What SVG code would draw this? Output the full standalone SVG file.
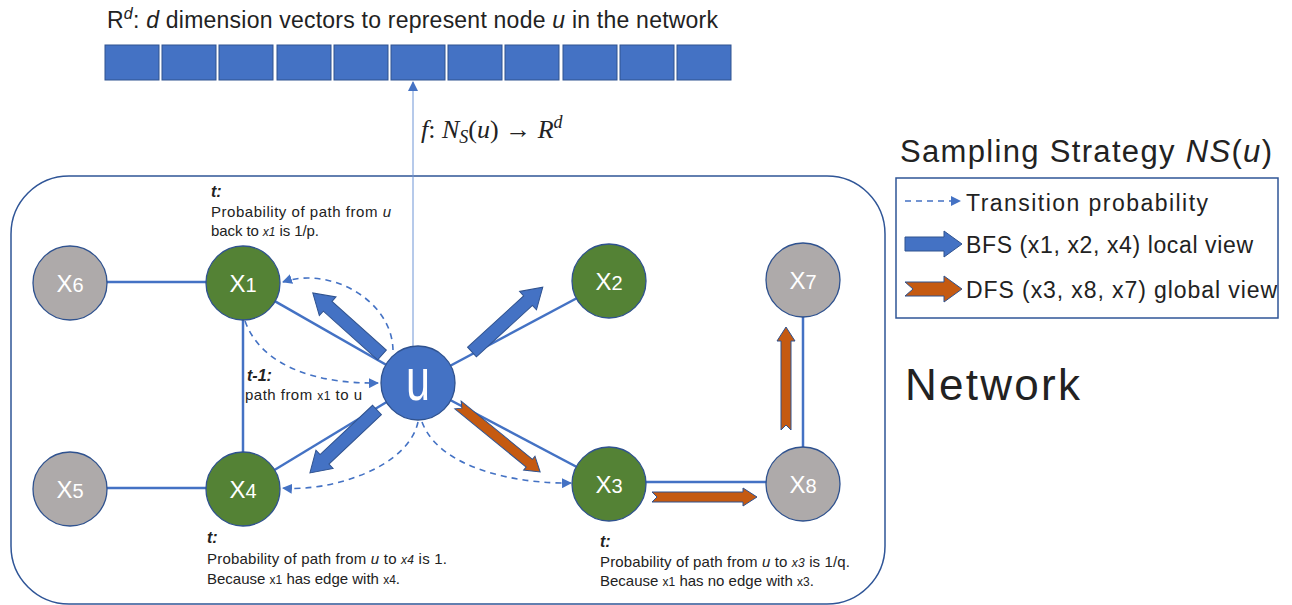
<svg xmlns="http://www.w3.org/2000/svg" width="1292" height="605" viewBox="0 0 1292 605">
<style>
.t{font-family:"Liberation Sans",Arial,sans-serif;fill:#222}
.edge{stroke:#4472c4;stroke-width:2.5;fill:none}
.dash{stroke:#4472c4;stroke-width:1.6;fill:none;stroke-dasharray:6 5}
.sq{fill:#4472c4;stroke:#2f528f;stroke-width:1}
.green{fill:#548235;stroke:#2f528f;stroke-width:1.3}
.gray{fill:#aeaaaa;stroke:#2f528f;stroke-width:1.3}
.blue{fill:#4472c4;stroke:#2f528f;stroke-width:1.3}
.lbl{font-family:"Liberation Sans",Arial,sans-serif;fill:#fff;font-size:24px;text-anchor:middle}
.bfs{fill:#4472c4;stroke:#2f528f;stroke-width:1}
.dfs{fill:#c55a11;stroke:#2f528f;stroke-width:1}
.it{font-style:italic}
.bi{font-weight:bold;font-style:italic;font-size:16px}
.small{font-size:15px}
</style>
<defs>
<marker id="ah" markerUnits="userSpaceOnUse" markerWidth="10" markerHeight="10" refX="9" refY="5" orient="auto">
<path d="M0,0 L10,5 L0,10 z" fill="#4472c4"/>
</marker>
</defs>

<g id="heading">
<text class="t" x="107" y="28" font-size="23" textLength="611">R<tspan class="it" font-size="16" dy="-9">d</tspan><tspan dy="9">: </tspan><tspan class="it">d</tspan> dimension vectors to represent node <tspan class="it">u</tspan> in the network</text>
</g>

<g id="vector">
<rect class="sq" x="105" y="45" width="54" height="35"/>
<rect class="sq" x="162" y="45" width="54" height="35"/>
<rect class="sq" x="219" y="45" width="54" height="35"/>
<rect class="sq" x="277" y="45" width="54" height="35"/>
<rect class="sq" x="334" y="45" width="54" height="35"/>
<rect class="sq" x="391" y="45" width="54" height="35"/>
<rect class="sq" x="448" y="45" width="54" height="35"/>
<rect class="sq" x="505" y="45" width="54" height="35"/>
<rect class="sq" x="563" y="45" width="54" height="35"/>
<rect class="sq" x="620" y="45" width="54" height="35"/>
<rect class="sq" x="677" y="45" width="54" height="35"/>
</g>

<g id="formula">
<text x="421" y="138" font-family="'Liberation Serif',serif" font-size="26" fill="#222"><tspan font-style="italic">f</tspan>:  <tspan font-style="italic">N</tspan><tspan font-style="italic" font-size="18" dy="5">S</tspan><tspan dy="-5">(</tspan><tspan font-style="italic">u</tspan>) → <tspan font-style="italic">R</tspan><tspan font-style="italic" font-size="18" dy="-10">d</tspan></text>
</g>

<g id="network-frame">
<rect x="11" y="176" width="874" height="428" rx="58" ry="58" fill="none" stroke="#2f5597" stroke-width="1.5"/>
</g>

<g id="connectors">
<line x1="413" y1="346" x2="413" y2="82" stroke="#6f95d6" stroke-width="1" marker-end="url(#ah)"/>
<line class="edge" x1="70" y1="282" x2="243" y2="282"/>
<line class="edge" x1="243" y1="283" x2="243" y2="489"/>
<line class="edge" x1="70" y1="488" x2="243" y2="488"/>
<line class="edge" x1="418" y1="383" x2="243" y2="283"/>
<line class="edge" x1="418" y1="383" x2="243" y2="489"/>
<line class="edge" x1="418" y1="383" x2="609" y2="281"/>
<line class="edge" x1="418" y1="383" x2="609" y2="484"/>
<line class="edge" x1="609" y1="482" x2="803" y2="482"/>
<line class="edge" x1="803" y1="280" x2="803" y2="484"/>
<path class="dash" d="M393 350 C392 300 330 266 283 282" marker-end="url(#ah)"/>
<path class="dash" d="M245 321 C262 368 320 384 378 383" marker-end="url(#ah)"/>
<path class="dash" d="M418 422 C408 468 330 492 283 488" marker-end="url(#ah)"/>
<path class="dash" d="M422 422 C440 470 520 484 571 483" marker-end="url(#ah)"/>
<path class="bfs" transform="translate(382,355) rotate(221.9)" d="M0,-6.5 H73 V-12.5 L93,0 L73,12.5 V6.5 H0 Z"/>
<path class="bfs" transform="translate(377,410) rotate(136.8)" d="M0,-6.5 H72 V-12.5 L92,0 L72,12.5 V6.5 H0 Z"/>
<path class="bfs" transform="translate(472,352) rotate(-42.5)" d="M0,-6.5 H76 V-12.5 L96,0 L76,12.5 V6.5 H0 Z"/>
<path class="dfs" transform="translate(458,405) rotate(39.2)" d="M0,-5 H92 V-9 L106,0 L92,9 V5 H0 L5,0 Z"/>
<path class="dfs" transform="translate(652,497)" d="M0,-5 H91 V-9 L105,0 L91,9 V5 H0 L5,0 Z"/>
<path class="dfs" transform="translate(786,430) rotate(-90)" d="M0,-5 H89 V-9 L103,0 L89,9 V5 H0 L5,0 Z"/>
</g>

<g id="node-x6"><circle class="gray" cx="70" cy="283" r="37"/><text class="lbl" x="70" y="292">X<tspan font-size="20">6</tspan></text></g>
<g id="node-x1"><circle class="green" cx="243" cy="283" r="37"/><text class="lbl" x="243" y="292">X<tspan font-size="20">1</tspan></text></g>
<g id="node-x5"><circle class="gray" cx="70" cy="489" r="37"/><text class="lbl" x="70" y="498">X<tspan font-size="20">5</tspan></text></g>
<g id="node-x4"><circle class="green" cx="243" cy="489" r="37"/><text class="lbl" x="243" y="498">X<tspan font-size="20">4</tspan></text></g>
<g id="node-u"><circle class="blue" cx="418" cy="383" r="37"/><text class="lbl" style="font-size:60px" transform="translate(418,400) scale(0.72,1)" x="0" y="0">u</text></g>
<g id="node-x2"><circle class="green" cx="609" cy="281" r="37"/><text class="lbl" x="609" y="290">X<tspan font-size="20">2</tspan></text></g>
<g id="node-x3"><circle class="green" cx="609" cy="484" r="37"/><text class="lbl" x="609" y="493">X<tspan font-size="20">3</tspan></text></g>
<g id="node-x7"><circle class="gray" cx="803" cy="280" r="37"/><text class="lbl" x="803" y="289">X<tspan font-size="20">7</tspan></text></g>
<g id="node-x8"><circle class="gray" cx="803" cy="484" r="37"/><text class="lbl" x="803" y="493">X<tspan font-size="20">8</tspan></text></g>

<g id="note-x1">
<text class="t bi" x="211" y="197">t:</text>
<text class="t small" x="211" y="217" textLength="180">Probability of path from <tspan class="it">u</tspan></text>
<text class="t small" x="211" y="236" textLength="108">back to <tspan class="it" font-size="12">x1</tspan> is 1/p.</text>
</g>
<g id="note-t1">
<text class="t bi" x="247" y="381">t-1:</text>
<text class="t small" x="245" y="400" textLength="117">path from <tspan font-size="12">x1</tspan> to u</text>
</g>
<g id="note-x4">
<text class="t bi" x="207" y="543">t:</text>
<text class="t small" x="207" y="564" textLength="240">Probability of path from <tspan class="it">u</tspan> to <tspan class="it" font-size="12">x4</tspan> is 1.</text>
<text class="t small" x="207" y="584">Because <tspan font-size="12">x1</tspan> has edge with <tspan font-size="12">x4</tspan>.</text>
</g>
<g id="note-x3">
<text class="t bi" x="600" y="547">t:</text>
<text class="t small" x="600" y="567" textLength="250">Probability of path from <tspan class="it">u</tspan> to <tspan class="it" font-size="12">x3</tspan> is 1/q.</text>
<text class="t small" x="600" y="586">Because <tspan font-size="12">x1</tspan> has no edge with <tspan font-size="12">x3</tspan>.</text>
</g>

<g id="legend">
<text class="t" x="900" y="162" font-size="31" textLength="372">Sampling Strategy <tspan class="it">NS</tspan>(<tspan class="it">u</tspan>)</text>
<rect x="896" y="178" width="382" height="140" fill="none" stroke="#2f5597" stroke-width="1.5"/>
<line class="dash" x1="905" y1="201" x2="960" y2="201" stroke-dasharray="5 4" marker-end="url(#ah)"/>
<text class="t" x="966" y="211" font-size="23" textLength="242">Transition probability</text>
<path class="bfs" transform="translate(905,244)" d="M0,-7 H39 V-13 L57,0 L39,13 V7 H0 Z"/>
<text class="t" x="966" y="253" font-size="23" textLength="287">BFS (x1, x2, x4) local view</text>
<path class="dfs" transform="translate(905,289)" d="M0,-7 H39 V-13 L57,0 L39,13 V7 H0 L8,0 Z"/>
<text class="t" x="966" y="298" font-size="23" textLength="311">DFS (x3, x8, x7) global view</text>
</g>

<g id="network-label">
<text class="t" x="905" y="400" font-size="44" textLength="175">Network</text>
</g>
</svg>
